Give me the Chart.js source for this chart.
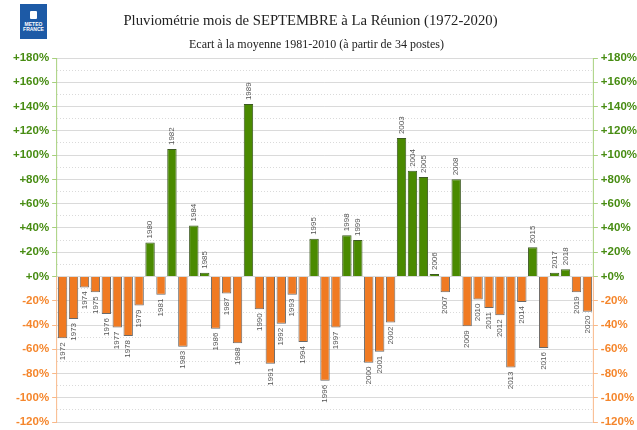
<!DOCTYPE html>
<html lang="fr">
<head>
<meta charset="utf-8">
<title>Pluviométrie septembre La Réunion</title>
<script src="https://cdn.jsdelivr.net/npm/chart.js@4/dist/chart.umd.min.js"></script>
<style>
    html, body { margin: 0; padding: 0; background: #fff; overflow: hidden; }
    #wrap { position: relative; width: 637px; height: 430px; overflow: hidden; }
    #chart { position: absolute; left: 0; top: 0; }
    .titre { position: absolute; left: 0; text-align: center; color: #222; font-family: 'Liberation Serif', 'Times New Roman', serif; white-space: nowrap; }
    #t1 { width: 621px; top: 11px; font-size: 14.7px; line-height: 18px; }
    #t2 { width: 633px; top: 37px; font-size: 12px; line-height: 14px; }
    #logo {
        position: absolute; left: 20px; top: 4px; width: 27px; height: 35px;
        background: #1d5aa6; color: #fff; font-family: 'Liberation Sans', Arial, sans-serif;
        font-weight: bold; font-size: 5px; line-height: 5px; text-align: center;
    }
    #logo .ico { display: block; width: 7px; height: 8px; margin: 7px auto 3px; background: #fff; border-radius: 1px; }
</style>
</head>
<body>
<div id="wrap">
    <canvas id="chart" width="641" height="432"></canvas>
    <div class="titre" id="t1">Pluviométrie mois de SEPTEMBRE à La Réunion (1972-2020)</div>
    <div class="titre" id="t2">Ecart à la moyenne 1981-2010 (à partir de 34 postes)</div>
    <div id="logo"><span class="ico"></span>METEO<br>FRANCE</div>
</div>
<script>
// années et écarts (%)
const years = [
    1972, 1973, 1974, 1975, 1976, 1977, 1978, 1979, 1980, 1981,
    1982, 1983, 1984, 1985, 1986, 1987, 1988, 1989, 1990, 1991,
    1992, 1993, 1994, 1995, 1996, 1997, 1998, 1999, 2000, 2001,
    2002, 2003, 2004, 2005, 2006, 2007, 2008, 2009, 2010, 2011,
    2012, 2013, 2014, 2015, 2016, 2017, 2018, 2019, 2020
];
const ecarts = [
    -51, -35, -9, -13, -31, -42, -49, -24, 28, -15,
    105, -58, 42, 3, -43, -14, -55, 142, -27, -72,
    -39, -15, -54, 31, -86, -42, 34, 30, -71, -62,
    -38, 114, 87, 82, 2, -13, 80, -41, -19, -26,
    -32, -75, -21, 24, -59, 3, 6, -13, -29
];
const yMin = -120;
const yMax = 180;

const GREEN = '#4a8a00';
const ORANGE = '#f07a22';
const LABEL_GREEN = '#478c12';
const LABEL_ORANGE = '#f5862c';
const AXIS_GREEN = '#a6d07c';
const AXIS_ORANGE = '#f9b888';

function tickLabel(v) {
    if (v % 20 !== 0) return '';
    return (v >= 0 ? '+' : '') + v + '%';
}

function tickColor(c) {
    if (c.tick.value % 20 !== 0) return 'rgba(0,0,0,0)';
    return c.tick.value >= 0 ? AXIS_GREEN : AXIS_ORANGE;
}

// axe vertical bicolore + étiquettes des années
const decorPlugin = {
    id: 'decor',
    afterDatasetsDraw(chart) {
        const ctx = chart.ctx;
        const y = chart.scales.y;
        const zero = y.getPixelForValue(0);
        const area = chart.chartArea;
        ctx.save();
        ctx.lineWidth = 1;
        [area.left - 0.5, area.right + 0.5].forEach(x => {
            ctx.strokeStyle = AXIS_GREEN;
            ctx.beginPath(); ctx.moveTo(x, area.top); ctx.lineTo(x, zero); ctx.stroke();
            ctx.strokeStyle = AXIS_ORANGE;
            ctx.beginPath(); ctx.moveTo(x, zero); ctx.lineTo(x, area.bottom); ctx.stroke();
        });

        // années en vertical
        const meta = chart.getDatasetMeta(0);
        ctx.fillStyle = '#555';
        ctx.font = '8px "Liberation Sans", Arial, sans-serif';
        ctx.textBaseline = 'middle';
        meta.data.forEach((bar, i) => {
            const v = ecarts[i];
            ctx.save();
            ctx.translate(bar.x, v >= 0 ? bar.y - 4 : bar.y + 4);
            ctx.rotate(-Math.PI / 2);
            ctx.textAlign = v >= 0 ? 'left' : 'right';
            ctx.fillText(String(years[i]), 0, 0);
            ctx.restore();
        });
        ctx.restore();
    }
};

const axisCommon = {
    min: yMin,
    max: yMax,
    border: {
        display: false,
        dash: c => (c.tick && c.tick.value % 20 !== 0) ? [1, 2] : []
    },
    ticks: {
        stepSize: 10,
        autoSkip: false,
        padding: 3,
        callback: tickLabel,
        color: c => c.tick.value >= 0 ? LABEL_GREEN : LABEL_ORANGE,
        font: { family: '"Liberation Sans", Arial, sans-serif', size: 11.5, weight: 'bold' }
    }
};

const ctx = document.getElementById('chart').getContext('2d');
new Chart(ctx, {
    type: 'bar',
    data: {
        labels: years,
        datasets: [{
            data: ecarts,
            backgroundColor: ecarts.map(v => v >= 0 ? GREEN : ORANGE),
            borderColor: ecarts.map(v => v >= 0 ? '#3d5a22' : '#6a6a6a'),
            borderWidth: 1,
            barPercentage: 0.86,
            categoryPercentage: 1
        }]
    },
    options: {
        responsive: false,
        animation: false,
        layout: { padding: { left: 10, right: 1, top: 58, bottom: 2 } },
        plugins: {
            legend: { display: false },
            tooltip: { enabled: false }
        },
        scales: {
            x: {
                display: false,
                offset: true
            },
            y: Object.assign({}, axisCommon, {
                position: 'left',
                grid: {
                    color: '#dadada',
                    tickColor: tickColor,
                    tickLength: 5
                }
            }),
            y2: Object.assign({}, axisCommon, {
                position: 'right',
                grid: {
                    drawOnChartArea: false,
                    tickColor: tickColor,
                    tickLength: 5
                }
            })
        }
    },
    plugins: [decorPlugin]
});
</script>
</body>
</html>
